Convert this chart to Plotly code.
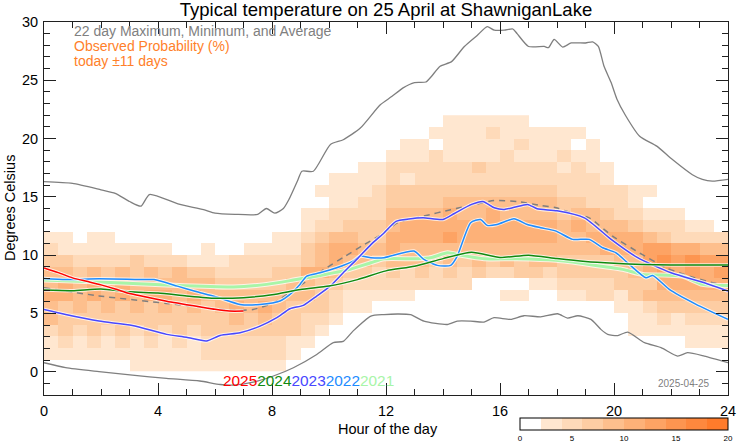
import plotly.graph_objects as go

# ---------------- data ----------------
TITLE = "Typical temperature on 25 April at ShawniganLake"

# half-hour bins (48 columns) x 1-degree bins (rows, lower edge 0..21)
HOUR_BINS = [i * 0.5 + 0.25 for i in range(48)]
TEMP_BINS = [t + 0.5 for t in range(22)]

# observed probability class per cell (digit k = k-th 2% class, 0 = below 2%)
PROB_CLASS_ROWS = [
    "000000111111" "111110000000" "000000000000" "000000000000",  # 0-1
    "111111111112" "222221000000" "000000000000" "000000000000",  # 1-2
    "121212121212" "222221100000" "000000000000" "000000000111",  # 2-3
    "232323232323" "333333210000" "000000000000" "000001111111",  # 3-4
    "433333333333" "343433221000" "000000000000" "000001121222",  # 4-5
    "434343434343" "454543332110" "000000000000" "000011233333",  # 5-6
    "554545455454" "444444432111" "110000001100" "112213444444",  # 6-7
    "454545444444" "333334433222" "222222000011" "222233355555",  # 7-8
    "443434343433" "222233554332" "323232322332" "333334565656",  # 8-9
    "332222322211" "122222345443" "444343434344" "333344676766",  # 9-10
    "211111111001" "001111345544" "544444444444" "444555665544",  # 10-11
    "110110000000" "000011234433" "555565555555" "445555432222",  # 11-12
    "000000000000" "000000122333" "455555555555" "454443222110",  # 12-13
    "000000000000" "000000112222" "444454454444" "344322111000",  # 13-14
    "000000000000" "000000001122" "333344444444" "332221000000",  # 14-15
    "000000000000" "000000011112" "333333333333" "222221100000",  # 15-16
    "000000000000" "000000001111" "212222222222" "222100000000",  # 16-17
    "000000000000" "000000000011" "222222322222" "121100000000",  # 17-18
    "000000000000" "000000000000" "111211112111" "211000000000",  # 18-19
    "000000000000" "000000000000" "011011111211" "101000000000",  # 19-20
    "000000000000" "000000000000" "000111121111" "110000000000",  # 20-21
    "000000000000" "000000000000" "000011111100" "000000000000",  # 21-22
]

MAX_H = [0, 1, 2, 2.5, 3, 3.4, 3.7, 4.7, 5.6, 6.0, 6.7, 7.5, 7.8, 8.1, 8.4, 8.6, 8.9, 9.05, 9.45,
         10.05, 10.5, 11.1, 11.8, 12.2, 12.6, 13.0, 13.4, 13.6, 13.9, 14.3, 14.75, 15.2, 15.55, 15.8,
         16.15, 16.45, 16.6, 17.0, 17.55, 17.7, 17.9, 18.2, 18.5, 19.0, 19.25, 19.45, 19.65, 19.9,
         20.1, 20.4, 20.9, 21.5, 22.05, 22.75, 23.1, 23.45, 24]
MAX_T = [16.3, 16.15, 15.6, 15.3, 14.6, 14.2, 15.2, 14.4, 13.9, 13.6, 13.5, 13.5, 14.0, 13.6, 14.0,
         14.8, 16.4, 17.2, 17.2, 19.5, 19.9, 20.9, 22.9, 23.6, 24.35, 24.8, 24.85, 25.35, 26.2, 26.6,
         27.9, 28.85, 29.6, 29.3, 29.3, 29.4, 29.0, 27.9, 27.9, 27.8, 28.5, 27.85, 28.2, 28.2, 28.3,
         27.9, 26.2, 24.8, 23.4, 22.0, 20.2, 19.35, 18.2, 16.9, 16.5, 16.35, 16.5]

MIN_H = [0, 0.76, 1.93, 3.1, 4.3, 5.47, 6.18, 6.65, 7.34, 8.05, 8.75, 9.57, 10.15, 10.5, 10.85, 11.47,
         11.93, 12.4, 12.86, 13.33, 14.15, 14.5, 14.97, 15.44, 15.79, 16.37, 16.84, 17.43, 18.02,
         18.37, 18.73, 19.19, 19.54, 19.78, 20.13, 20.48, 21.07, 21.65, 22.23, 22.58, 23.17, 24.0]
MIN_T = [0.77, 0.34, 0.0, -0.3, -0.57, -0.8, -1.1, -1.15, -0.9, -0.37, 0.34, 1.48, 2.5, 2.6, 3.5, 4.77,
         4.9, 4.95, 4.9, 4.34, 4.05, 4.34, 4.34, 4.26, 4.63, 4.49, 4.8, 4.71, 4.97, 4.6, 4.8, 4.49,
         3.63, 3.2, 3.1, 3.4, 2.49, 2.06, 1.34, 1.63, 1.34, 0.77]

AVG_H = [0, 1.93, 4.3, 6.65, 7.34, 8.05, 8.95, 9.82, 10.5, 11.23, 11.93, 12.4, 13.33, 14.27, 14.97,
         15.79, 16.6, 17.43, 17.97, 18.67, 19.13, 19.95, 20.89, 21.82, 22.64, 23.46, 24]
AVG_T = [7.2, 6.5, 5.86, 5.26, 5.34, 5.9, 7.34, 8.77, 9.8, 10.9, 11.9, 12.78, 13.35, 13.9, 14.26,
         14.69, 14.6, 14.26, 14.06, 13.49, 13.2, 11.63, 10.2, 8.92, 8.2, 7.63, 7.4]

Y2025_H = [0, 0.5, 1, 1.5, 2, 2.5, 3, 3.5, 4, 4.5, 5, 5.5, 6, 6.5, 7]
Y2025_T = [8.9, 8.5, 8.05, 7.75, 7.45, 7.1, 6.7, 6.45, 6.2, 5.95, 5.75, 5.55, 5.35, 5.2, 5.2]

Y2024_H = [0, 1, 2, 3, 4, 5, 6, 7, 8, 9, 10, 11, 12, 13, 14, 15, 16, 17, 18, 19, 20, 21, 22, 23, 24]
Y2024_T = [7.0, 6.95, 7.1, 6.85, 6.75, 6.5, 6.3, 6.35, 6.6, 7.05, 7.35, 7.9, 8.65, 9.05, 9.7, 10.25,
           9.8, 10.0, 9.7, 9.45, 9.3, 9.2, 9.15, 9.15, 9.15]

Y2023_H = [0, 0.76, 1.93, 3.1, 4.3, 5.0, 5.7, 6.18, 6.88, 7.58, 8.17, 8.63, 9.1, 9.57, 10.04, 10.5,
           11.0, 11.47, 11.93, 12.35, 12.8, 13.3, 14.0, 14.4, 15.0, 15.4, 15.8, 16.15, 16.5, 16.97,
           17.3, 18.0, 18.96, 19.9, 20.83, 22.0, 23.17, 24.0]
Y2023_T = [5.34, 4.91, 4.34, 3.97, 3.2, 2.95, 2.63, 3.11, 3.34, 3.91, 4.63, 5.4, 5.69, 6.49, 7.34,
           8.49, 9.7, 10.9, 11.9, 12.9, 13.1, 13.2, 13.06, 13.57, 14.35, 14.6, 14.06, 13.92, 14.1,
           14.35, 13.98, 13.8, 13.2, 11.35, 9.78, 8.49, 7.63, 6.92]

Y2022_H = [0, 0.76, 1.93, 3.33, 3.86, 4.68, 5.3, 6.02, 6.88, 7.58, 8.28, 8.63, 8.98, 9.22, 9.69,
           10.27, 10.85, 11.09, 11.47, 11.93, 12.98, 13.33, 13.8, 14.27, 14.5, 14.97, 15.32, 15.55,
           15.9, 16.49, 16.96, 17.43, 17.97, 18.55, 19.13, 19.6, 20.07, 20.54, 21.12, 21.36, 21.94,
           22.88, 24]
Y2022_T = [8.0, 7.91, 7.97, 7.91, 7.9, 7.34, 6.9, 6.43, 5.77, 5.77, 6.06, 6.63, 7.49, 8.2, 8.49, 8.92,
           9.49, 9.92, 9.78, 9.78, 10.35, 9.63, 9.12, 9.12, 9.92, 12.78, 13.06, 12.55, 12.63, 13.12,
           12.63, 12.35, 12.06, 11.35, 11.35, 10.63, 10.2, 9.2, 8.06, 8.26, 7.06, 5.78, 4.49]

Y2021_H = [0, 1.93, 4.3, 6.65, 7.81, 8.75, 9.69, 10.62, 11.47, 11.93, 13.1, 13.6, 14.16, 14.6, 15.44,
           16.6, 17.97, 19.13, 20.3, 21.0, 22.4, 23.1, 24]
Y2021_T = [7.86, 7.69, 7.43, 7.26, 7.49, 7.86, 8.26, 8.71, 9.35, 9.69, 9.69, 9.8, 10.2, 10.0, 9.69,
           9.69, 9.55, 9.2, 8.78, 8.35, 8.2, 7.49, 7.4]

YEARS = ["2025", "2024", "2023", "2022", "2021"]
YEAR_COLORS = ["#FF0000", "#108A10", "#4848FF", "#1E8CFF", "#A8F5A8"]

X_TICKS = [0, 4, 8, 12, 16, 20, 24]
Y_TICKS = [0, 5, 10, 15, 20, 25, 30]
CB_TICKS = [0, 5, 10, 15, 20]
PROB_COLORS = ["#FFFFFF", "#FFE7D0", "#FEDAB9", "#FDCDA3", "#FDBF8D", "#FDB178",
               "#FDA364", "#FD9550", "#FE883E", "#FF7B2B"]

# ---------------- build ----------------
z = []
for row in PROB_CLASS_ROWS:
    z.append([None if c == "0" else int(c) * 2 + 1 for c in row])

cs = []
n = len(PROB_COLORS)
for i, c in enumerate(PROB_COLORS):
    cs.append([i / n, c])
    cs.append([(i + 1) / n, c])

FONT = "Liberation Sans, Arial, Helvetica, sans-serif"
L, R, T, B = 44, 14, 22, 50
PW, PH = 742 - L - R, 445 - T - B


def px(xp):
    return (xp - L) / PW


def py(yp):
    return (445 - B - yp) / PH


fig = go.Figure()
fig.add_trace(go.Heatmap(
    x=HOUR_BINS, y=TEMP_BINS, z=z, zmin=0, zmax=20, colorscale=cs,
    hoverongaps=False, xgap=0, ygap=0,
    colorbar=dict(orientation="h", x=px(520), xanchor="left",
                  y=py(418), yanchor="top", len=208 / PW, lenmode="fraction",
                  thickness=12, xpad=0, ypad=0, outlinecolor="black", outlinewidth=1,
                  tickvals=CB_TICKS, ticks="", tickfont=dict(size=8, color="black", family=FONT),
                  ticklabelposition="outside bottom")
))

grey = "#7F7F7F"
for hx, ty in [(MAX_H, MAX_T), (MIN_H, MIN_T)]:
    fig.add_trace(go.Scatter(x=hx, y=ty, mode="lines",
                             line=dict(color=grey, width=1.3, shape="spline", smoothing=0.6),
                             hoverinfo="skip"))
fig.add_trace(go.Scatter(x=AVG_H, y=AVG_T, mode="lines",
                         line=dict(color=grey, width=1.5, dash="6px,5px", shape="spline", smoothing=0.6),
                         hoverinfo="skip"))

series = [(Y2021_H, Y2021_T, YEAR_COLORS[4], 3.0),
          (Y2022_H, Y2022_T, YEAR_COLORS[3], 1.5),
          (Y2023_H, Y2023_T, YEAR_COLORS[2], 1.5),
          (Y2024_H, Y2024_T, YEAR_COLORS[1], 1.5),
          (Y2025_H, Y2025_T, YEAR_COLORS[0], 1.5)]
for hx, ty, col, w in series:
    fig.add_trace(go.Scatter(x=hx, y=ty, mode="lines",
                             line=dict(color="rgba(255,255,255,0.75)", width=w + 2, shape="spline", smoothing=0.6),
                             hoverinfo="skip"))
    fig.add_trace(go.Scatter(x=hx, y=ty, mode="lines",
                             line=dict(color=col, width=w, shape="spline", smoothing=0.6),
                             hoverinfo="skip"))

year_text = "".join(f"<span style='color:{c}'>{y}</span>" for y, c in zip(YEARS, YEAR_COLORS))

annotations = [
    dict(text="22 day Maximum, Minimum, and Average", x=px(73), y=py(31),
         font=dict(size=14, color="#808080")),
    dict(text="Observed Probability (%)", x=px(73), y=py(46),
         font=dict(size=14, color="#FF7F2A")),
    dict(text="today ±11 days", x=px(73), y=py(61),
         font=dict(size=14, color="#FF7F2A")),
    dict(text=year_text, x=px(222), y=py(380), font=dict(size=15.4)),
    dict(text="2025-04-25", x=px(657), y=py(383), font=dict(size=10, color="#808080")),
    dict(text="Hour of the day", x=px(388), xanchor="center", y=py(429), font=dict(size=14.5, color="black")),
    dict(text="Degrees Celsius", x=px(10), xanchor="center", y=py(208), textangle=-90,
         font=dict(size=14.5, color="black")),
]
for a in annotations:
    a.setdefault("xanchor", "left")
    a.update(xref="paper", yref="paper", yanchor="middle", showarrow=False, borderpad=0)
    a["font"].setdefault("family", FONT)

fig.update_layout(
    width=742, height=445,
    margin=dict(l=L, r=R, t=T, b=B, autoexpand=False),
    paper_bgcolor="white", plot_bgcolor="white",
    showlegend=False,
    font=dict(family=FONT, size=14, color="black"),
    title=dict(text=TITLE, x=386 / 742, xanchor="center", y=1 - 10 / 445, yanchor="middle",
               yref="container", font=dict(size=18.5, color="black", family=FONT)),
    annotations=annotations,
)
axis_common = dict(showline=True, linecolor="#202020", linewidth=1, mirror="allticks",
                   ticks="inside", ticklen=12, tickcolor="#202020", tickwidth=1,
                   showgrid=False, zeroline=False,
                   tickfont=dict(size=14.5, color="black", family=FONT))
fig.update_xaxes(range=[0, 24], tickvals=X_TICKS, ticktext=[str(v) for v in X_TICKS],
                 ticklabelstandoff=3,
                 minor=dict(dtick=1, tick0=0, ticks="inside", ticklen=6, tickcolor="#202020", showgrid=False),
                 **axis_common)
fig.update_yaxes(range=[-2, 30], tickvals=Y_TICKS, ticklabelstandoff=2,
                 minor=dict(dtick=1, tick0=0, ticks="inside", ticklen=6, tickcolor="#202020", showgrid=False),
                 **axis_common)

fig.write_html("out.html")
